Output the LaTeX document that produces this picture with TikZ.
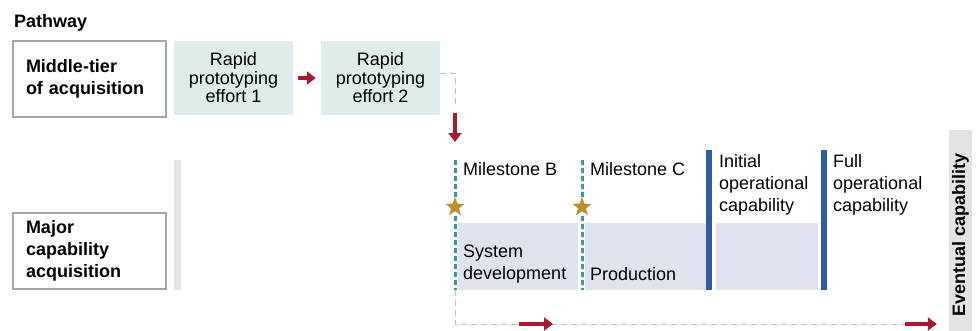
\documentclass[tikz,border=0pt]{standalone}
\usepackage{fontspec}
\setmainfont{Liberation Sans}
\usetikzlibrary{arrows.meta,shapes.geometric}
\definecolor{gaored}{HTML}{A6192E}
\definecolor{protofill}{HTML}{DEEDEC}
\definecolor{phasefill}{HTML}{DEE3ED}
\definecolor{msteal}{HTML}{3A9A94}
\definecolor{stargold}{HTML}{B8902C}
\definecolor{iocblue}{HTML}{2F5C9B}
\definecolor{framegray}{HTML}{A6A6A6}
\definecolor{bargray}{HTML}{E3E3E3}
\begin{document}
\begin{tikzpicture}[x=1pt,y=-1pt,
    every node/.style={font=\fontsize{18}{22}\selectfont, inner sep=0pt},
    pathbox/.style={draw=framegray, line width=1.3pt, minimum width=153pt,
      minimum height=76pt, text width=127pt, inner xsep=13pt, align=left,
      font=\fontsize{18}{22}\selectfont\bfseries},
    proto/.style={fill=protofill, minimum width=119pt, minimum height=74pt,
      align=center, font=\fontsize{18}{18.5}\selectfont},
    phase/.style={fill=phasefill},
    capbar/.style={fill=iocblue},
    redarrow/.style={draw=gaored, line width=4.5pt, -{Triangle[length=9pt,width=13pt]}},
    flow/.style={draw=gray!50, line width=1pt, dash pattern=on 6pt off 4pt},
    milestone/.style={draw=msteal, line width=3pt, dash pattern=on 5pt off 3pt},
    msstar/.style={star, star points=5, star point ratio=2.4, fill=stargold,
      minimum size=20pt},
    lbl/.style={align=left}]
  \useasboundingbox (0,0) rectangle (979,330);

  % pathways
  \node[anchor=base west, font=\fontsize{18}{22}\selectfont\bfseries] (pathway) at (14,27) {Pathway};
  \node[pathbox] (mta) at (89.5,79) {Middle-tier\\of acquisition};
  \node[pathbox] (mca) at (89.5,251) {Major\\capability\\acquisition};
  \fill[bargray] (174,160) rectangle (181,290);

  % rapid prototyping
  \node[proto] (rp1) at (233.5,78) {Rapid\\prototyping\\effort 1};
  \node[proto] (rp2) at (380.5,78) {Rapid\\prototyping\\effort 2};
  \draw[redarrow] ([xshift=5pt]rp1.east) -- ([xshift=-5pt]rp2.west);

  % hand-over into the major pathway
  \coordinate (bend) at (455,73);
  \coordinate (drop) at (455,108);
  \coordinate (entry) at (455,113);
  \coordinate (msB) at (455,207);
  \coordinate (msC) at (582,207);
  \draw[flow] (rp2.east |- bend) -- (bend) -- (drop);
  \draw[redarrow] (entry) -- ++(0,29);

  % phases
  \node[phase, minimum width=120pt, minimum height=67pt] (sysdev) at (518,256.5) {};
  \node[phase, minimum width=121pt, minimum height=67pt] (prod) at (645.5,256.5) {};
  \node[phase, minimum width=102pt, minimum height=67pt] (ops) at (767,256.5) {};
  \node[lbl, anchor=north west] at (463,245) {System\\development};
  \node[lbl, anchor=base west] at (590,280) {Production};

  % milestones (yshift points up)
  \foreach \m/\t in {msB/B, msC/C} {
    \draw[milestone] ([yshift=47pt]\m) -- ([yshift=9pt]\m);
    \draw[milestone] ([yshift=-9pt]\m) -- ([yshift=-83pt]\m);
    \node[msstar] at (\m) {};
    \node[anchor=base west] at ([xshift=8pt,yshift=32pt]\m) {Milestone \t};
  }

  % capability bars
  \fill[capbar] (706,150) rectangle (712,290);
  \fill[capbar] (821,150) rectangle (827,290);
  \node[lbl, anchor=north west] (ioc) at (719,154) {Initial\\operational\\capability};
  \node[lbl, anchor=north west] (foc) at (833,154) {Full\\operational\\capability};

  % eventual capability
  \node[fill=bargray, minimum width=210pt, minimum height=23pt, rotate=90,
    font=\fontsize{18}{22}\selectfont\bfseries] (evcap) at (960.5,235) {Eventual capability};
  \coordinate (low) at (455,324);
  \draw[flow] (455,290) -- (low) -- ([xshift=-12pt]evcap.north |- low);
  \draw[redarrow] ([xshift=64pt]low) -- ++(34,0);
  \draw[redarrow] ([xshift=-44pt]evcap.north |- low) -- ([xshift=-12pt]evcap.north |- low);
\end{tikzpicture}
\end{document}
